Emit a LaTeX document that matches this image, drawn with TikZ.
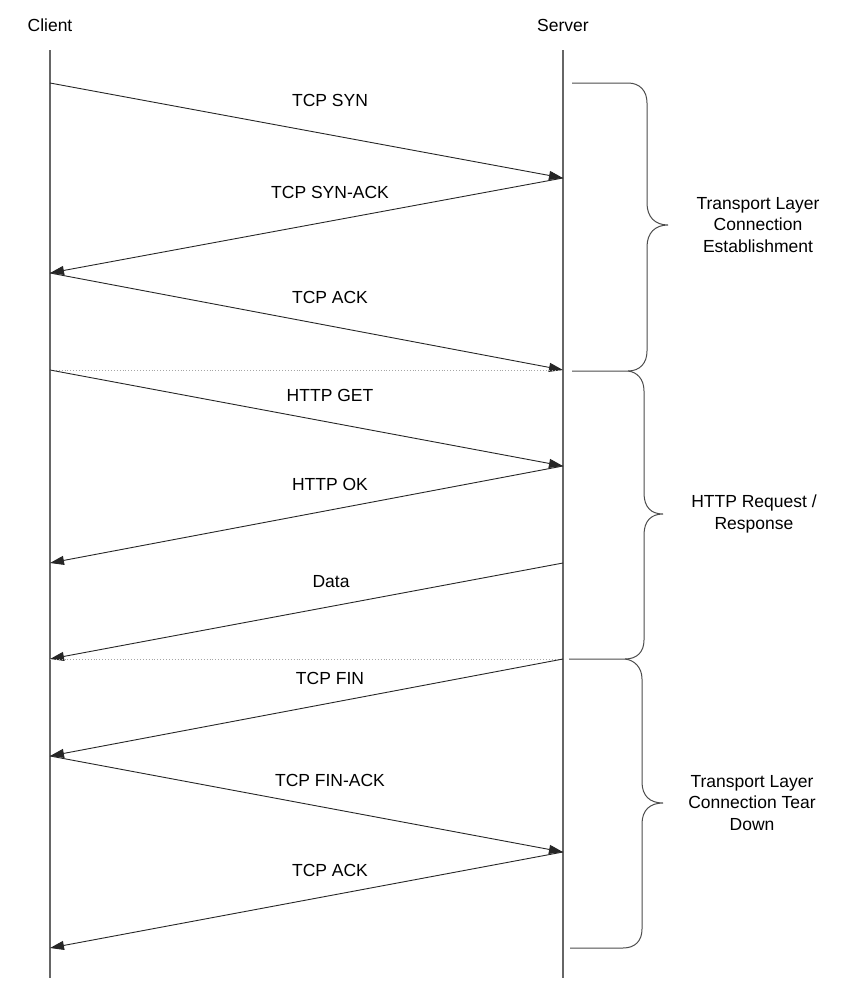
\documentclass[tikz,border=0pt]{standalone}
\usepackage{fontspec}
\setmainfont{Liberation Sans}
\usetikzlibrary{arrows.meta}
\begin{document}
\begin{tikzpicture}[x=1pt,y=-1pt,
  lbl/.style={font=\fontsize{17.5}{21.5}\selectfont, inner sep=0pt, align=center},
  life/.style={draw=black!60, line width=1.1pt},
  msg/.style={draw=black!85, line width=0.9pt, -{Triangle[length=14pt,width=9pt]}},
  sep/.style={draw=black!35, line width=0.9pt, dotted},
  brace/.style={draw=black!70, line width=1pt}]
\useasboundingbox (0,0) rectangle (850,983);
\node[lbl] (client) at (50,25) {Client};
\node[lbl] (server) at (563,25) {Server};
\coordinate (ct) at (50,50); \coordinate (cb) at (50,978);
\coordinate (st) at (563,50); \coordinate (sb) at (563,978);
\draw[life] (ct) -- (cb);
\draw[life] (st) -- (sb);
% points on lifelines
\coordinate (c1) at (50,83);  \coordinate (s1) at (563,178);
\coordinate (c2) at (50,273); \coordinate (s2) at (563,370);
\coordinate (c3) at (50,370); \coordinate (s3) at (563,466);
\coordinate (c4) at (50,563); \coordinate (s4) at (563,563);
\coordinate (c5) at (50,659); \coordinate (s5) at (563,659);
\coordinate (c6) at (50,756); \coordinate (s6) at (563,852);
\coordinate (c7) at (50,948);
\draw[msg] (c1) -- (s1);
\draw[msg] (s1) -- (c2);
\draw[msg] (c2) -- (s2);
\draw[sep] (c3) -- (s2);
\draw[msg] (c3) -- (s3);
\draw[msg] (s3) -- (c4);
\draw[msg] (s4) -- (c5);
\draw[sep] (c5) -- (s5);
\draw[msg] (s5) -- (c6);
\draw[msg] (c6) -- (s6);
\draw[msg] (s6) -- (c7);
% labels
\node[lbl] (m1) at (330,100) {TCP SYN};
\node[lbl] (m2) at (330,192) {TCP SYN-ACK};
\node[lbl] (m3) at (330,297) {TCP ACK};
\node[lbl] (m4) at (330,395) {HTTP GET};
\node[lbl] (m5) at (330,484) {HTTP OK};
\node[lbl] (m6) at (331,582) {Data};
\node[lbl] (m7) at (330,678) {TCP FIN};
\node[lbl] (m8) at (330,780) {TCP FIN-ACK};
\node[lbl] (m9) at (330,870) {TCP ACK};
% braces
\draw[brace] (572,83) -- (628,83) .. controls (640,83) and (647,91) .. (647,103)
  -- (647,203) .. controls (647,217) and (655,225) .. (668,225)
  .. controls (655,225) and (647,233) .. (647,247)
  -- (647,351) .. controls (647,363) and (640,371) .. (628,371) -- (572,371);
\draw[brace] (628,371) .. controls (637,372) and (644,379) .. (644,391)
  -- (644,493) .. controls (644,507) and (651,514) .. (663,514)
  .. controls (651,514) and (644,521) .. (644,535)
  -- (644,640) .. controls (644,652) and (637,659) .. (625,659) -- (569,659);
\draw[brace] (625,659) .. controls (634,660) and (642,667) .. (642,679)
  -- (642,782) .. controls (642,796) and (650,803) .. (663,803)
  .. controls (650,803) and (642,810) .. (642,824)
  -- (642,929) .. controls (642,941) and (635,948) .. (623,948) -- (570,948);
\node[lbl] (b1) at (758,225) {Transport Layer\\Connection\\Establishment};
\node[lbl] (b2) at (754,514) {HTTP Request /\\Response};
\node[lbl] (b3) at (752,803) {Transport Layer\\Connection Tear\\Down};
\end{tikzpicture}
\end{document}
